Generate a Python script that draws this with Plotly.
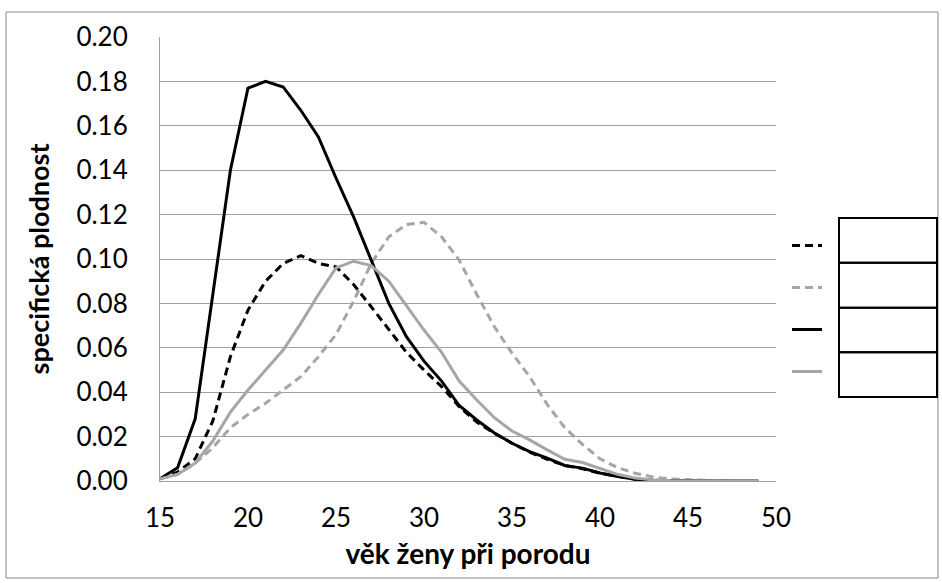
import plotly.graph_objects as go

ages = list(range(15, 50))

black_dashed = [0.001, 0.004, 0.010, 0.027, 0.056, 0.077, 0.090, 0.098, 0.1015, 0.098,
                0.0965, 0.0885, 0.0785, 0.068, 0.058, 0.050, 0.0425, 0.0335, 0.0265, 0.0215,
                0.017, 0.013, 0.0098, 0.007, 0.0055, 0.0035, 0.002, 0.0008, 0.0003, 0.0002,
                0.0001, 0.0001, 0.0001, 0.0, 0.0]
gray_dashed = [0.001, 0.003, 0.008, 0.015, 0.024, 0.030, 0.035, 0.041, 0.047, 0.056,
               0.066, 0.081, 0.098, 0.110, 0.1155, 0.1165, 0.110, 0.0995, 0.084, 0.0695,
               0.0576, 0.047, 0.0345, 0.024, 0.0165, 0.0100, 0.006, 0.0035, 0.0018, 0.0009,
               0.0005, 0.0003, 0.0002, 0.0001, 0.0001]
black_solid = [0.001, 0.006, 0.028, 0.085, 0.140, 0.177, 0.180, 0.1775, 0.167, 0.155,
               0.1365, 0.119, 0.0995, 0.080, 0.065, 0.054, 0.045, 0.034, 0.0275, 0.0216,
               0.017, 0.0132, 0.0103, 0.007, 0.0058, 0.0036, 0.002, 0.0008, 0.0003, 0.0002,
               0.0001, 0.0001, 0.0001, 0.0, 0.0]
gray_solid = [0.001, 0.003, 0.008, 0.018, 0.031, 0.041, 0.050, 0.059, 0.071, 0.084,
              0.096, 0.099, 0.097, 0.090, 0.079, 0.068, 0.058, 0.045, 0.0365, 0.0285,
              0.0225, 0.0185, 0.014, 0.0098, 0.0083, 0.0055, 0.003, 0.0013, 0.0005, 0.0002,
              0.0001, 0.0001, 0.0001, 0.0001, 0.0001]

x_ticks = [15, 20, 25, 30, 35, 40, 45, 50]
y_ticks = [0.00, 0.02, 0.04, 0.06, 0.08, 0.10, 0.12, 0.14, 0.16, 0.18, 0.20]

x_title = "věk ženy při porodu"
y_title = "specifická plodnost"

BLACK = "#000000"
GRAY = "#a6a6a6"
FONT = "Lato, 'Open Sans', sans-serif"

series = [
    (black_dashed, BLACK, "8px,5px"),
    (gray_dashed, GRAY, "8px,5px"),
    (black_solid, BLACK, "solid"),
    (gray_solid, GRAY, "solid"),
]

fig = go.Figure()
for i, (vals, col, dash) in enumerate(series):
    fig.add_trace(go.Scatter(
        x=ages, y=vals, mode="lines", name="", legendgroup=f"g{i}",
        line=dict(color=col, width=3, dash=dash),
        hoverinfo="x+y",
    ))

W, H = 942, 583
L, R, T, B = 160, 166, 37, 102
pw, ph = W - L - R, H - T - B

def px_x(v):
    return (v - L) / pw

def px_y(v):
    return (H - B - v) / ph

shapes = []
# outer chart border
shapes.append(dict(type="rect", xref="paper", yref="paper",
                   x0=px_x(6), x1=px_x(938), y0=px_y(578), y1=px_y(12),
                   line=dict(color="#888888", width=1), layer="below"))
# legend table box
rows = [218, 262.7, 307.7, 352.3, 397]
for a, b in zip(rows[:-1], rows[1:]):
    shapes.append(dict(type="rect", xref="paper", yref="paper",
                       x0=px_x(839), x1=px_x(937), y0=px_y(b), y1=px_y(a),
                       line=dict(color="#000000", width=2)))

fig.update_layout(
    width=W, height=H,
    margin=dict(l=L, r=R, t=T, b=B),
    paper_bgcolor="white", plot_bgcolor="white",
    font=dict(family=FONT, size=26, color="#000000"),
    showlegend=True,
    legend=dict(x=px_x(787), y=px_y(226), xanchor="left", yanchor="top",
                font=dict(size=20), tracegroupgap=13, bgcolor="rgba(0,0,0,0)",
                itemwidth=30),
    shapes=shapes,
    xaxis=dict(range=[15, 50], tickvals=x_ticks, ticktext=[str(t) for t in x_ticks],
               showgrid=False, zeroline=False, showline=True, linecolor="#a0a0a0",
               linewidth=1, ticks="", ticklabelstandoff=14,
               title=dict(text=f"<b>{x_title}</b>", font=dict(size=28), standoff=12),
               fixedrange=True),
    yaxis=dict(range=[0, 0.20], tickvals=y_ticks, tickformat=".2f",
               showgrid=True, gridcolor="#a0a0a0", gridwidth=1, zeroline=False,
               showline=True, linecolor="#a0a0a0", linewidth=1, ticks="",
               ticklabelstandoff=26,
               title=dict(text=f"<b>{y_title}</b>", font=dict(size=27), standoff=18),
               fixedrange=True),
)

fig.write_html("out.html", config={"displayModeBar": False},
               post_script="document.body.style.margin='0px';")
